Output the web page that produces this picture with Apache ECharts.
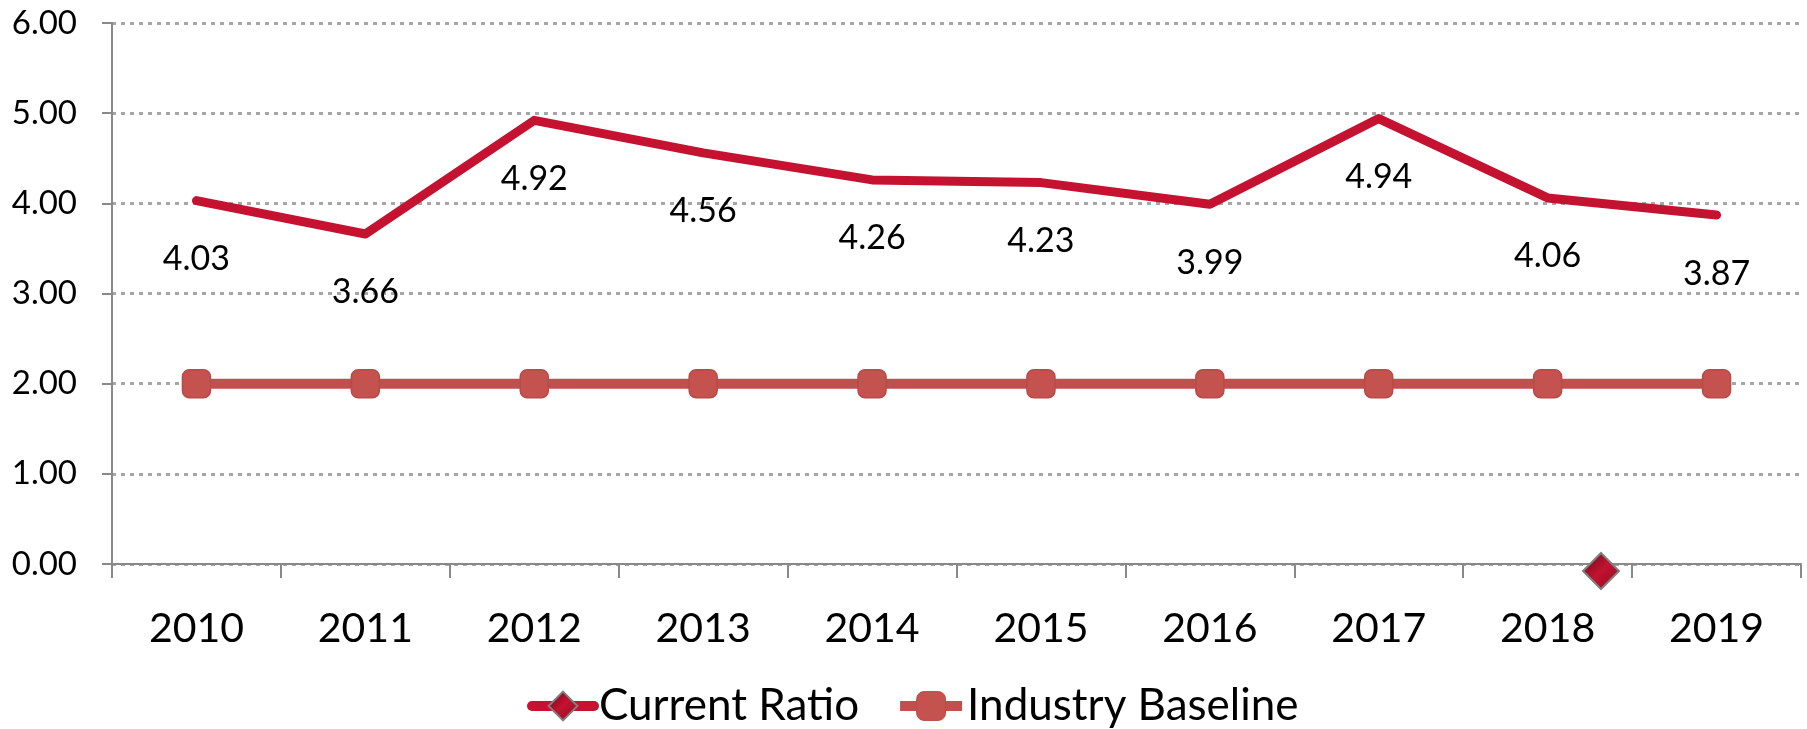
<!DOCTYPE html>
<html>
<head>
<meta charset="utf-8">
<script src="https://cdn.jsdelivr.net/npm/echarts@6/dist/echarts.min.js"></script>
<style>
  html, body { margin: 0; padding: 0; background: #fff; }
  #chart { width: 1807px; height: 729px; }
</style>
</head>
<body>
<div id="chart"></div>
<script>
// 数据
const years = ['2010', '2011', '2012', '2013', '2014', '2015', '2016', '2017', '2018', '2019'];
const currentRatio = [4.03, 3.66, 4.92, 4.56, 4.26, 4.23, 3.99, 4.94, 4.06, 3.87];
const industryBaseline = [2, 2, 2, 2, 2, 2, 2, 2, 2, 2];

const chart = echarts.init(document.getElementById('chart'));

function diamondFill() {
  return new echarts.graphic.LinearGradient(0, 0, 1, 1, [
    { offset: 0, color: '#5e0a14' },
    { offset: 0.5, color: '#c41230' },
    { offset: 1, color: '#8a0d20' }
  ]);
}

chart.setOption({
  animation: false,
  grid: { left: 112, right: 6, top: 23, bottom: 165 },
  legend: {
    top: 679,
    left: 522,
    itemWidth: 62,
    itemHeight: 36,
    itemGap: 36,
    lineStyle: { width: 10 },
    textStyle: { fontFamily: 'Lato', fontSize: 44, color: '#000' },
    data: [
      { name: 'Current Ratio', itemStyle: { color: diamondFill(), borderColor: '#7f7f7f', borderWidth: 2 } },
      { name: 'Industry Baseline', itemStyle: { color: '#c4524f', borderColor: '#b94a47', borderWidth: 1 } }
    ]
  },
  xAxis: {
    type: 'category',
    data: years,
    boundaryGap: true,
    axisLine: { lineStyle: { color: '#898989', width: 2 } },
    axisTick: { show: true, length: 14, lineStyle: { color: '#898989', width: 2 } },
    axisLabel: { fontFamily: 'Lato', fontSize: 41, color: '#000', margin: 44 }
  },
  yAxis: {
    type: 'value',
    min: 0,
    max: 6,
    interval: 1,
    axisLine: { show: true, lineStyle: { color: '#898989', width: 2 } },
    axisTick: { show: true, length: 10, lineStyle: { color: '#898989', width: 2 } },
    axisLabel: {
      fontFamily: 'Lato', fontSize: 33, color: '#000', margin: 35,
      formatter: v => v.toFixed(2)
    },
    splitLine: { lineStyle: { color: '#a6a6a6', width: 3, type: [4, 5] } }
  },
  series: [
    {
      name: 'Current Ratio',
      type: 'line',
      data: currentRatio,
      symbol: 'diamond',
      symbolSize: 1,
      lineStyle: { color: '#c41230', width: 9, cap: 'round', join: 'round' },
      itemStyle: { color: '#c41230' },
      label: {
        show: true,
        position: 'bottom',
        distance: 41,
        fontFamily: 'Lato',
        fontSize: 34,
        color: '#000',
        formatter: p => p.value.toFixed(2)
      },
      z: 3
    },
    {
      name: 'Industry Baseline',
      type: 'line',
      data: industryBaseline,
      symbol: 'roundRect',
      symbolSize: 28,
      lineStyle: { color: '#c0504d', width: 10 },
      itemStyle: { color: '#c4524f', borderColor: '#b94a47', borderWidth: 1.5 },
      z: 2
    }
  ],
  graphic: [
    {
      type: 'polygon',
      shape: { points: [[1601, 553], [1619, 571], [1601, 589], [1583, 571]] },
      style: { fill: diamondFill(), stroke: '#7f7f7f', lineWidth: 2 },
      z: 10
    }
  ]
});

window.onresize = function () {
  chart.resize();
};
</script>
</body>
</html>
